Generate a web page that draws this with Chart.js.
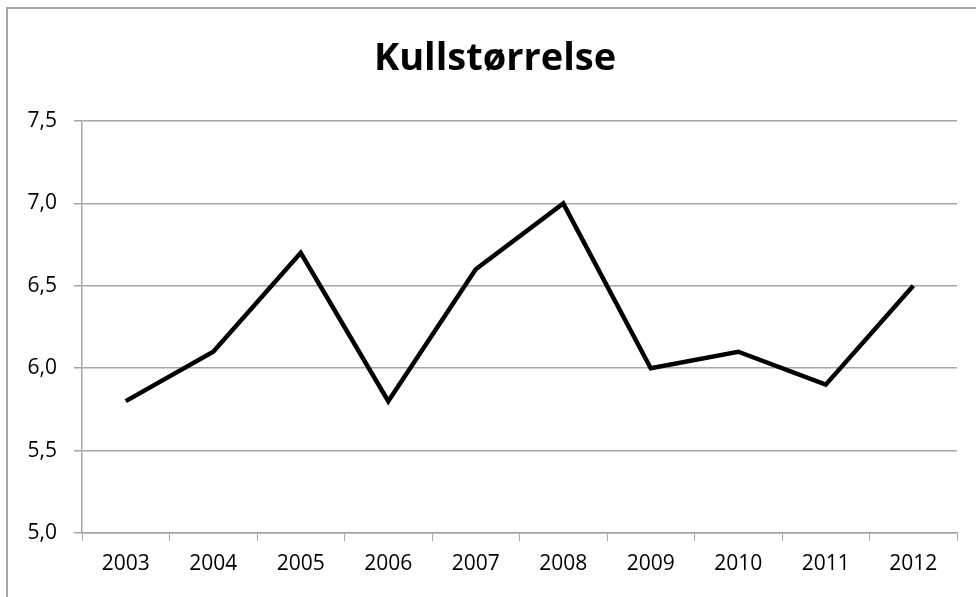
<!DOCTYPE html>
<html>
<head>
<meta charset="utf-8">
<script src="https://cdn.jsdelivr.net/npm/chart.js"></script>
<style>
  html, body { margin: 0; padding: 0; background: #fff; }
  #wrap { position: relative; width: 976px; height: 597px; overflow: hidden; }
  #frame {
    position: absolute; left: 6px; top: 7px; width: 1000px; height: 1000px;
    border-left: 2px solid #a6a6a6; border-top: 2px solid #a6a6a6;
  }
  #myChart { position: absolute; left: 0; top: 0; }
</style>
</head>
<body>
<div id="wrap">
  <div id="frame"></div>
  <canvas id="myChart" width="976" height="597"></canvas>
</div>
<script>
// chart data
var years = ["2003", "2004", "2005", "2006", "2007", "2008", "2009", "2010", "2011", "2012"];
var kullstorrelse = [5.8, 6.1, 6.7, 5.8, 6.6, 7.0, 6.0, 6.1, 5.9, 6.5];
var yTicks = [5.0, 5.5, 6.0, 6.5, 7.0, 7.5];
var titleText = "Kullstørrelse";

var gridColor = "#a6a6a6";
var labelFont = { family: "Open Sans", size: 21 };

// title centred on the framed chart, not on the canvas
var titlePlugin = {
  id: "frameTitle",
  afterDraw: function (chart) {
    var c = chart.ctx;
    c.save();
    c.font = "bold 38px 'Open Sans'";
    c.fillStyle = "#000";
    c.textAlign = "center";
    c.textBaseline = "alphabetic";
    c.fillText(titleText, 495, 70);
    c.restore();
  }
};

var ctx = document.getElementById("myChart").getContext("2d");
var chart = new Chart(ctx, {
  type: "line",
  data: {
    labels: years,
    datasets: [
      {
        label: titleText,
        data: kullstorrelse,
        borderColor: "#000000",
        borderWidth: 4.5,
        borderJoinStyle: "miter",
        pointRadius: 0,
        tension: 0,
        fill: false
      }
    ]
  },
  plugins: [titlePlugin],
  options: {
    responsive: false,
    animation: false,
    layout: { padding: { left: 0, right: 19, top: 121, bottom: 0 } },
    scales: {
      x: {
        offset: true,
        grid: {
          offset: true,
          drawOnChartArea: false,
          color: gridColor,
          tickLength: 8
        },
        border: { color: gridColor, width: 1.5 },
        ticks: { color: "#000", font: labelFont, padding: 10, maxRotation: 0 },
        afterFit: function (axis) { axis.height = 64; }
      },
      y: {
        min: yTicks[0],
        max: yTicks[yTicks.length - 1],
        afterBuildTicks: function (axis) {
          axis.ticks = yTicks.map(function (v) { return { value: v }; });
        },
        grid: { color: gridColor, lineWidth: 1.5, tickLength: 8 },
        border: { color: gridColor, width: 1.5 },
        ticks: {
          color: "#000",
          font: labelFont,
          padding: 17,
          callback: function (v) { return Number(v).toFixed(1).replace(".", ","); }
        },
        afterFit: function (axis) { axis.width = 82; }
      }
    },
    plugins: {
      legend: { display: false },
      tooltip: { enabled: false },
      title: { display: false }
    }
  }
});
</script>
</body>
</html>
